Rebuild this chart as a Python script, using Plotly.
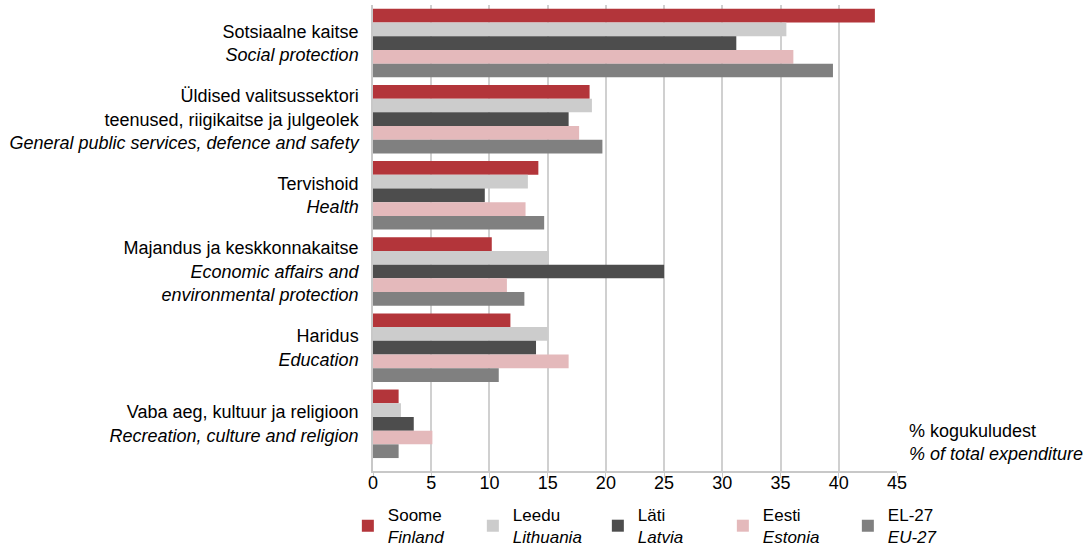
import plotly.graph_objects as go

categories = [
    "Sotsiaalne kaitse<br><i>Social protection</i>",
    "Üldised valitsussektori<br>teenused, riigikaitse ja julgeolek<br><i>General public services, defence and safety</i>",
    "Tervishoid<br><i>Health</i>",
    "Majandus ja keskkonnakaitse<br><i>Economic affairs and<br>environmental protection</i>",
    "Haridus<br><i>Education</i>",
    "Vaba aeg, kultuur ja religioon<br><i>Recreation, culture and religion</i>",
]
series_names = [
    "Soome<br><i>Finland</i>",
    "Leedu<br><i>Lithuania</i>",
    "Läti<br><i>Latvia</i>",
    "Eesti<br><i>Estonia</i>",
    "EL-27<br><i>EU-27</i>",
]
finland = [43.1, 18.6, 14.2, 10.2, 11.8, 2.2]
lithuania = [35.5, 18.8, 13.3, 15.1, 15.0, 2.4]
latvia = [31.2, 16.8, 9.6, 25.0, 14.0, 3.5]
estonia = [36.1, 17.7, 13.1, 11.5, 16.8, 5.1]
eu27 = [39.5, 19.7, 14.7, 13.0, 10.8, 2.2]
values = [finland, lithuania, latvia, estonia, eu27]
colors = ["#B3353A", "#CCCCCC", "#4D4D4D", "#E4B9BB", "#808080"]
x_ticks = [0, 5, 10, 15, 20, 25, 30, 35, 40, 45]

fig = go.Figure()
for name, vals, col in zip(series_names, values, colors):
    fig.add_trace(go.Bar(y=categories, x=vals, name=name, orientation="h",
                         marker=dict(color=col, line=dict(width=0))))

fig.update_layout(
    width=1091, height=549,
    margin=dict(l=373, r=194, t=5, b=78, autoexpand=False),
    paper_bgcolor="white", plot_bgcolor="white",
    barmode="group", bargap=0.1, bargroupgap=0,
    font=dict(family="Liberation Sans, Arial, sans-serif", size=18, color="black"),
    showlegend=True,
    legend=dict(orientation="h", x=-0.048, xanchor="left", xref="paper",
                y=-0.056, yanchor="top", yref="paper",
                entrywidth=80, font=dict(size=17), traceorder="normal"),
    annotations=[dict(text="% kogukuludest<br><i>% of total expenditure</i>",
                      xref="paper", yref="paper", x=1.02, y=0.01, xanchor="left",
                      yanchor="bottom", align="left", showarrow=False,
                      font=dict(size=18))],
)
fig.update_xaxes(range=[0, 45], tickvals=x_ticks, showgrid=True, gridcolor="#D0D0D0",
                 gridwidth=1.5, showline=True, linecolor="#C8C8C8", linewidth=1.5,
                 ticks="outside", tickcolor="#C8C8C8", ticklen=5, zeroline=False,
                 tickfont=dict(size=18), automargin=False, ticklabelstandoff=-10)
fig.update_yaxes(range=[5.62, -0.5], showline=True, linecolor="#C8C8C8", linewidth=1.5,
                 ticks="", tickfont=dict(size=18), ticklabelstandoff=9, automargin=False)

fig.write_html("out.html", config={"displayModeBar": False},
               post_script="document.body.style.margin='0px';")
